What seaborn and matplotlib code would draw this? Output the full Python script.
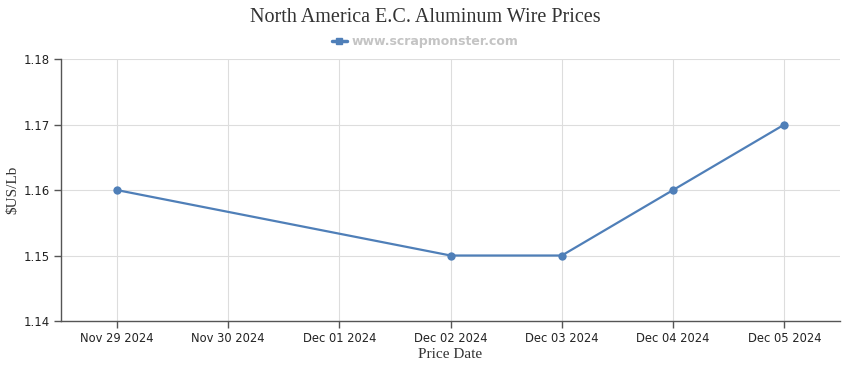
import matplotlib
matplotlib.use("Agg")
import matplotlib.pyplot as plt
import seaborn as sns
import pandas as pd
from matplotlib.lines import Line2D

# data
tick_labels = ["Nov 29 2024", "Nov 30 2024", "Dec 01 2024", "Dec 02 2024",
               "Dec 03 2024", "Dec 04 2024", "Dec 05 2024"]
point_dates = ["Nov 29 2024", "Dec 02 2024", "Dec 03 2024", "Dec 04 2024", "Dec 05 2024"]
prices = [1.16, 1.15, 1.15, 1.16, 1.17]

line_color = "#4f7fb8"

sns.set_theme(style="whitegrid")
plt.rcParams["font.family"] = ["DejaVu Sans"]

pos = {lab: i for i, lab in enumerate(tick_labels)}
df = pd.DataFrame({"x": [pos[d] for d in point_dates], "price": prices})

fig = plt.figure(figsize=(8.5, 3.7), dpi=100)
ax = fig.add_axes([0.0718, 0.1324, 0.9165, 0.7081])

sns.lineplot(data=df, x="x", y="price", ax=ax, color=line_color,
             linewidth=1.6, marker="o", markersize=6, markeredgewidth=0)

ax.set_xlim(-0.5, len(tick_labels) - 0.5)
ax.set_ylim(1.14, 1.18)
ax.set_xticks(range(len(tick_labels)))
ax.set_xticklabels(tick_labels, fontsize=8.3, color="#222222")
ax.set_yticks([1.14, 1.15, 1.16, 1.17, 1.18])
ax.set_yticklabels(["1.14", "1.15", "1.16", "1.17", "1.18"], fontsize=8.5, color="#222222")

ax.grid(True, color="#dddddd", linewidth=0.8)
for side in ["top", "right"]:
    ax.spines[side].set_visible(False)
for side in ["left", "bottom"]:
    ax.spines[side].set_color("#555555")
    ax.spines[side].set_linewidth(1)
ax.tick_params(axis="both", length=5, width=1, color="#555555", pad=3, direction="out",
               bottom=True, left=True)

ax.set_xlabel("Price Date", family="Liberation Serif", fontsize=11, color="#333333", labelpad=2)
ax.set_ylabel("$US/Lb", family="Liberation Serif", fontsize=11, color="#333333")
ax.yaxis.set_label_coords(-0.054, 0.5)

fig.text(0.5, 0.953, "North America E.C. Aluminum Wire Prices", ha="center", va="center",
         family="Liberation Serif", fontsize=14.5, color="#333333")

handle = Line2D([0], [0], color=line_color, linewidth=2.5, marker="s", markersize=5)
fig.legend([handle], ["www.scrapmonster.com"], loc="center", bbox_to_anchor=(0.5, 0.888),
           frameon=False, handlelength=1.2, handletextpad=0.4,
           prop={"weight": "bold", "size": 9}, labelcolor="#c4c4c4")

fig.savefig("out.png", dpi=100)
